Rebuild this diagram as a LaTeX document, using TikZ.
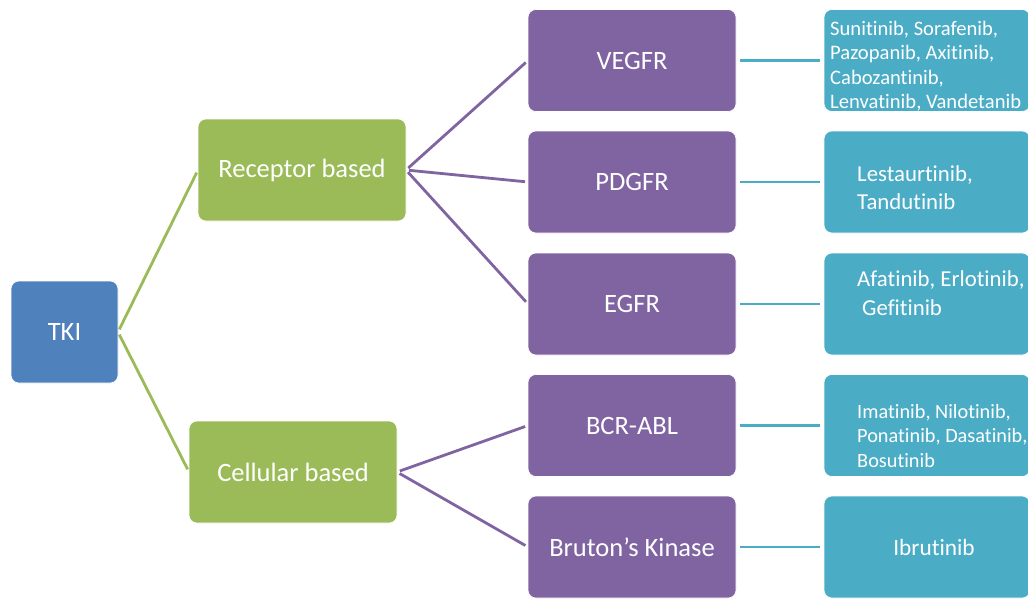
\documentclass[tikz,border=0pt]{standalone}
\usepackage{fontspec}
\setmainfont{Carlito}[RawFeature={-liga;-clig;-calt;-dlig}]
\definecolor{tkiblue}{HTML}{4F81BD}
\definecolor{grn}{HTML}{9BBB59}
\definecolor{purp}{HTML}{8064A2}
\definecolor{teal2}{HTML}{4BACC6}
\tikzset{
  box/.style={rectangle, rounded corners=8pt, inner sep=0pt, outer sep=0pt, text=white,
    font=\fontsize{26.5}{30}\selectfont, draw=white, line width=0.6pt},
  tkibox/.style={box, fill=tkiblue, minimum width=107pt, minimum height=102pt},
  grnbox/.style={box, fill=grn, minimum width=208pt, minimum height=102pt},
  purbox/.style={box, fill=purp, minimum width=208pt, minimum height=102pt},
  drugbox/.style={box, fill=teal2, minimum width=206pt, minimum height=102pt},
  lbl/.style={text=white, inner sep=0pt, anchor=base west},
  conn/.style={line width=2.8pt, shorten <=3pt, shorten >=3pt},
}
\begin{document}
\begin{tikzpicture}[x=1pt,y=-1pt]
\useasboundingbox (0,0) rectangle (1028,598);
\node[tkibox] (tki) at (64.5,332) {TKI};
\node[grnbox] (rec) at (302,170) {Receptor based};
\node[grnbox] (cel) at (293,472) {Cellular based};
\node[purbox] (vegfr) at (632,60.5) {VEGFR};
\node[purbox] (pdgfr) at (632,182) {PDGFR};
\node[purbox] (egfr) at (632,304) {EGFR};
\node[purbox] (bcr) at (632,425.5) {BCR-ABL};
\node[purbox] (btk) at (632,547) {Bruton’s Kinase};
\node[drugbox] (d1) at (927,60.5) {};
\node[drugbox] (d2) at (927,182) {};
\node[drugbox] (d3) at (927,304) {};
\node[drugbox] (d4) at (927,425.5) {};
\node[drugbox] (d5) at (927,547) {};
% drug texts
\node[lbl] (t1) at (830,35) {\fontsize{20.6}{24.5}\selectfont\begin{tabular}[t]{@{}l@{}}Sunitinib, Sorafenib,\\Pazopanib, Axitinib,\\Cabozantinib,\\Lenvatinib, Vandetanib\end{tabular}};
\node[lbl] (t2) at (857,181) {\fontsize{22.8}{28}\selectfont\begin{tabular}[t]{@{}l@{}}Lestaurtinib,\\Tandutinib\end{tabular}};
\node[lbl] (t3) at (857,286) {\fontsize{22.8}{29}\selectfont\begin{tabular}[t]{@{}l@{}}Afatinib, Erlotinib,\\\hspace{5pt}Gefitinib\end{tabular}};
\node[lbl] (t4) at (857,418) {\fontsize{20.3}{24.5}\selectfont\begin{tabular}[t]{@{}l@{}}Imatinib, Nilotinib,\\Ponatinib, Dasatinib,\\Bosutinib\end{tabular}};
\node[text=white, inner sep=0pt, font=\fontsize{23.3}{28}\selectfont] (t5) at (934,547) {Ibrutinib};
% connectors
\draw[conn, grn] (tki.east) -- (rec.west);
\draw[conn, grn] (tki.east) -- (cel.west);
\draw[conn, purp] (rec.east) -- (vegfr.west);
\draw[conn, purp] (rec.east) -- (pdgfr.west);
\draw[conn, purp] (rec.east) -- (egfr.west);
\draw[conn, purp] (cel.east) -- (bcr.west);
\draw[conn, purp] (cel.east) -- (btk.west);
\draw[conn, teal2, shorten <=4pt, shorten >=4pt] (vegfr.east) -- (d1.west);
\draw[conn, teal2, shorten <=4pt, shorten >=4pt] (pdgfr.east) -- (d2.west);
\draw[conn, teal2, shorten <=4pt, shorten >=4pt] (egfr.east) -- (d3.west);
\draw[conn, teal2, shorten <=4pt, shorten >=4pt] (bcr.east) -- (d4.west);
\draw[conn, teal2, shorten <=4pt, shorten >=4pt] (btk.east) -- (d5.west);
\end{tikzpicture}
\end{document}
